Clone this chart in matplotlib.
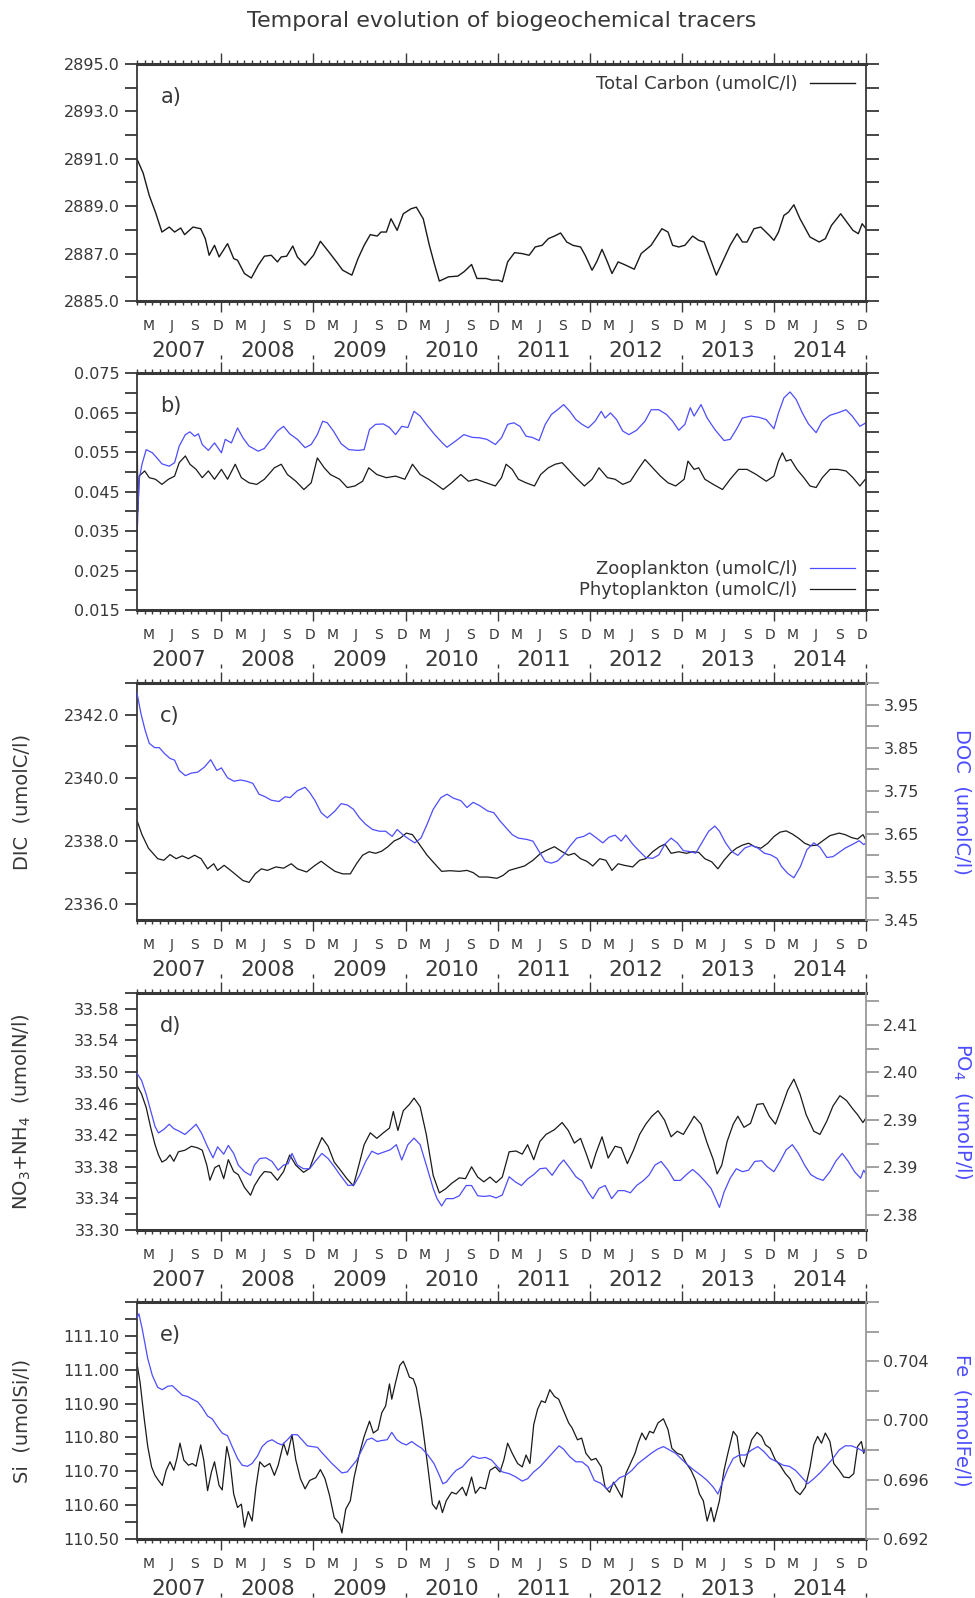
import numpy as np
import matplotlib
matplotlib.use("Agg")
import matplotlib.pyplot as plt
from matplotlib.ticker import FixedLocator, FixedFormatter, NullFormatter, FormatStrFormatter, MultipleLocator

plt.rcParams["font.family"] = ["DejaVu Sans"]

INK = "#383838"
BLUE = "#4d4dff"
GREY = "#9a9a9a"

# all series: (months since 1 Feb 2007, value)
total_carbon = [
    (0, 2890.99), (0.8, 2890.4), (1.6, 2889.45), (2.4, 2888.75), (3.25, 2887.91), (4.2, 2888.12),
    (4.9, 2887.91), (5.7, 2888.08), (6.2, 2887.80), (7.3, 2888.12), (8.3, 2888.05), (8.9, 2887.63),
    (9.4, 2886.93), (10.1, 2887.35), (10.7, 2886.86), (11.8, 2887.42), (12.6, 2886.79), (13.1, 2886.72),
    (14.0, 2886.16), (14.9, 2885.97), (15.8, 2886.51), (16.6, 2886.89), (17.5, 2886.93), (18.3, 2886.65),
    (18.8, 2886.86), (19.5, 2886.89), (20.3, 2887.32), (20.9, 2886.86), (21.9, 2886.51), (23.0, 2886.93),
    (23.9, 2887.52), (25.0, 2887.07), (26.0, 2886.65), (26.8, 2886.30), (28.0, 2886.09), (28.8, 2886.79),
    (29.6, 2887.35), (30.4, 2887.80), (31.3, 2887.74), (31.8, 2887.91), (32.5, 2887.91), (33.1, 2888.47),
    (33.9, 2887.98), (34.7, 2888.68), (35.7, 2888.89), (36.4, 2888.96), (37.3, 2888.47), (38.1, 2887.35),
    (38.8, 2886.51), (39.4, 2885.84), (40.6, 2886.02), (41.8, 2886.05), (42.6, 2886.23), (43.6, 2886.54),
    (44.3, 2885.95), (45.5, 2885.95), (46.3, 2885.88), (47.1, 2885.88), (47.6, 2885.81), (48.3, 2886.65),
    (49.2, 2887.04), (50.2, 2887.00), (51.1, 2886.93), (51.9, 2887.28), (52.8, 2887.35), (53.6, 2887.63),
    (54.4, 2887.74), (55.2, 2887.87), (56.0, 2887.49), (56.8, 2887.35), (57.8, 2887.28), (58.4, 2886.93),
    (59.3, 2886.30), (59.9, 2886.65), (60.6, 2887.18), (61.3, 2886.65), (61.9, 2886.16), (62.7, 2886.65),
    (63.7, 2886.51), (64.8, 2886.34), (65.7, 2887.00), (67.0, 2887.35), (68.4, 2888.05), (69.2, 2887.91),
    (69.8, 2887.35), (70.6, 2887.28), (71.4, 2887.35), (72.4, 2887.74), (73.2, 2887.56), (73.9, 2887.49),
    (74.7, 2886.79), (75.5, 2886.09), (76.3, 2886.65), (77.3, 2887.35), (78.2, 2887.84), (78.9, 2887.49),
    (79.5, 2887.49), (80.4, 2888.05), (81.3, 2888.12), (82.4, 2887.77), (83.0, 2887.56), (83.6, 2887.91),
    (84.3, 2888.61), (84.9, 2888.75), (85.6, 2889.06), (86.4, 2888.47), (87.7, 2887.70), (88.9, 2887.49),
    (89.7, 2887.63), (90.5, 2888.19), (91.7, 2888.68), (92.5, 2888.33), (93.3, 2887.98), (94.0, 2887.84),
    (94.5, 2888.26), (95.0, 2888.05),
]

zooplankton = [
    (0, 0.0325), (0.25, 0.0477), (0.65, 0.0519), (1.2, 0.0556), (2.0, 0.0548), (2.6, 0.0535), (3.25, 0.0520),
    (4.2, 0.0514), (4.9, 0.0523), (5.5, 0.0565), (6.3, 0.0594), (6.9, 0.0601), (7.5, 0.0590), (8.0, 0.0596),
    (8.5, 0.0569), (9.3, 0.0554), (10.1, 0.0573), (11.0, 0.0548), (11.5, 0.0582), (12.3, 0.0573), (13.1, 0.0611),
    (13.8, 0.0586), (14.6, 0.0565), (15.8, 0.0552), (16.6, 0.0559), (17.5, 0.0582), (18.3, 0.0603), (19.1, 0.0615),
    (19.9, 0.0596), (20.9, 0.0582), (21.9, 0.0561), (22.7, 0.0569), (23.5, 0.0594), (24.2, 0.0628), (24.8, 0.0624),
    (25.6, 0.0603), (26.6, 0.0571), (27.6, 0.0556), (28.8, 0.0554), (29.6, 0.0556), (30.3, 0.0607), (31.1, 0.0620),
    (32.1, 0.0621), (32.9, 0.0612), (33.7, 0.0594), (34.5, 0.0615), (35.3, 0.0612), (36.1, 0.0653), (36.9, 0.0641),
    (37.7, 0.0620), (38.8, 0.0594), (39.8, 0.0573), (40.4, 0.0562), (41.4, 0.0576), (42.6, 0.0594), (43.7, 0.0587),
    (44.6, 0.0586), (45.6, 0.0582), (46.7, 0.0569), (47.5, 0.0586), (48.3, 0.0620), (49.1, 0.0624), (49.9, 0.0615),
    (50.7, 0.0590), (51.5, 0.0587), (52.4, 0.0579), (53.2, 0.0620), (54.0, 0.0645), (54.8, 0.0657), (55.6, 0.0670),
    (56.4, 0.0653), (57.2, 0.0632), (58.0, 0.0620), (58.8, 0.0611), (59.7, 0.0628), (60.5, 0.0653), (61.0, 0.0636),
    (61.7, 0.0649), (62.5, 0.0632), (63.3, 0.0603), (64.1, 0.0594), (65.1, 0.0605), (66.2, 0.0628), (67.0, 0.0657),
    (68.0, 0.0657), (69.0, 0.0645), (69.8, 0.0628), (70.6, 0.0605), (71.4, 0.0620), (72.1, 0.0662), (72.6, 0.0641),
    (73.5, 0.0670), (74.3, 0.0636), (75.3, 0.0607), (76.5, 0.0579), (77.3, 0.0582), (78.1, 0.0607), (78.9, 0.0636),
    (80.0, 0.0641), (81.0, 0.0638), (82.0, 0.0632), (83.0, 0.0609), (83.6, 0.0649), (84.3, 0.0687), (85.1, 0.0702),
    (85.9, 0.0683), (86.7, 0.0649), (87.5, 0.0621), (88.5, 0.0599), (89.3, 0.0628), (90.3, 0.0643), (91.3, 0.0649),
    (92.4, 0.0657), (93.2, 0.0641), (94.2, 0.0615), (95.0, 0.0624),
]

phytoplankton = [
    (0, 0.0636), (0.12, 0.0400), (0.3, 0.0490), (0.5, 0.0493), (1.0, 0.0502), (1.6, 0.0485), (2.4, 0.0481),
    (3.25, 0.0468), (4.1, 0.0481), (4.9, 0.0489), (5.5, 0.0523), (6.3, 0.0540), (6.9, 0.0519), (7.7, 0.0506),
    (8.5, 0.0485), (9.3, 0.0502), (10.1, 0.0481), (11.0, 0.0506), (11.8, 0.0481), (12.8, 0.0519), (13.6, 0.0485),
    (14.6, 0.0472), (15.6, 0.0468), (16.6, 0.0481), (17.9, 0.0510), (18.8, 0.0519), (19.6, 0.0493), (20.7, 0.0476),
    (21.75, 0.0455), (22.7, 0.0472), (23.5, 0.0535), (24.4, 0.0510), (25.2, 0.0493), (26.4, 0.0481), (27.4, 0.0460),
    (28.4, 0.0464), (29.4, 0.0476), (30.2, 0.0510), (31.25, 0.0493), (32.5, 0.0485), (33.7, 0.0489), (34.9, 0.0481),
    (35.9, 0.0519), (36.9, 0.0493), (38.0, 0.0481), (39.0, 0.0468), (39.9, 0.0455), (41.0, 0.0472), (42.2, 0.0493),
    (43.2, 0.0476), (44.2, 0.0481), (45.5, 0.0472), (46.7, 0.0464), (47.5, 0.0485), (48.1, 0.0519), (48.9, 0.0506),
    (49.7, 0.0481), (50.7, 0.0472), (51.8, 0.0464), (52.6, 0.0493), (53.6, 0.0510), (54.5, 0.0519), (55.4, 0.0523),
    (56.2, 0.0506), (57.2, 0.0485), (58.3, 0.0464), (59.3, 0.0481), (60.2, 0.0510), (61.3, 0.0485), (62.3, 0.0481),
    (63.3, 0.0468), (64.3, 0.0476), (65.3, 0.0506), (66.2, 0.0531), (67.2, 0.0510), (68.2, 0.0489), (69.2, 0.0472),
    (70.2, 0.0464), (71.3, 0.0481), (71.8, 0.0527), (72.6, 0.0506), (73.2, 0.0510), (74.0, 0.0481), (75.1, 0.0468),
    (76.3, 0.0455), (77.3, 0.0481), (78.4, 0.0506), (79.5, 0.0506), (80.7, 0.0493), (82.0, 0.0476), (83.0, 0.0489),
    (83.6, 0.0527), (84.1, 0.0548), (84.6, 0.0527), (85.2, 0.0531), (86.0, 0.0506), (86.9, 0.0485), (87.7, 0.0464),
    (88.5, 0.0460), (89.3, 0.0485), (90.3, 0.0506), (91.3, 0.0506), (92.4, 0.0502), (93.3, 0.0485), (94.2, 0.0464),
    (95.0, 0.0483),
]

dic = [
    (0, 2338.65), (0.65, 2338.2), (1.5, 2337.77), (2.7, 2337.44), (3.5, 2337.39), (4.3, 2337.57), (5.1, 2337.44),
    (5.9, 2337.53), (6.7, 2337.44), (7.5, 2337.55), (8.35, 2337.44), (9.2, 2337.12), (10.0, 2337.28), (10.5, 2337.07),
    (11.35, 2337.23), (12.2, 2337.07), (13.0, 2336.91), (13.8, 2336.75), (14.6, 2336.69), (15.4, 2336.96),
    (16.2, 2337.12), (17.0, 2337.07), (18.1, 2337.18), (19.1, 2337.14), (20.1, 2337.28), (20.9, 2337.12),
    (22.1, 2337.02), (23.2, 2337.23), (24.0, 2337.36), (24.8, 2337.21), (25.8, 2337.04), (26.8, 2336.96),
    (27.8, 2336.96), (28.6, 2337.28), (29.4, 2337.55), (30.25, 2337.66), (31.1, 2337.61), (31.9, 2337.68),
    (32.7, 2337.82), (33.5, 2338.00), (34.3, 2338.09), (35.1, 2338.25), (35.9, 2338.2), (36.7, 2337.93),
    (37.8, 2337.55), (38.8, 2337.28), (39.7, 2337.04), (40.8, 2337.06), (42.0, 2337.04), (43.0, 2337.07),
    (43.8, 2337.0), (44.6, 2336.86), (45.7, 2336.86), (46.9, 2336.82), (47.7, 2336.91), (48.5, 2337.07),
    (49.5, 2337.14), (50.5, 2337.21), (51.6, 2337.39), (52.6, 2337.61), (53.4, 2337.71), (54.4, 2337.82),
    (55.4, 2337.66), (56.2, 2337.55), (57.0, 2337.61), (57.8, 2337.44), (58.6, 2337.36), (59.4, 2337.21),
    (60.3, 2337.44), (61.1, 2337.39), (61.9, 2337.07), (62.7, 2337.28), (63.5, 2337.23), (64.6, 2337.18),
    (65.5, 2337.39), (66.3, 2337.44), (67.2, 2337.66), (68.1, 2337.82), (68.8, 2337.9), (69.6, 2337.61),
    (70.6, 2337.66), (71.6, 2337.61), (72.4, 2337.66), (73.2, 2337.64), (74.0, 2337.44), (74.9, 2337.34),
    (75.7, 2337.12), (76.5, 2337.39), (77.3, 2337.61), (78.1, 2337.77), (78.9, 2337.87), (79.7, 2337.93),
    (80.5, 2337.82), (81.3, 2337.77), (82.2, 2337.93), (83.0, 2338.14), (83.8, 2338.28), (84.6, 2338.32),
    (85.4, 2338.22), (86.2, 2338.09), (87.0, 2337.93), (87.8, 2337.85), (88.6, 2337.87), (89.5, 2338.03),
    (90.3, 2338.17), (91.5, 2338.25), (92.3, 2338.2), (93.1, 2338.11), (93.9, 2338.06), (94.6, 2338.2),
    (95.0, 2338.03),
]

doc = [
    (0, 3.977), (0.5, 3.930), (1.05, 3.891), (1.6, 3.860), (2.3, 3.850), (2.9, 3.850), (3.6, 3.836), (4.3, 3.825),
    (4.9, 3.821), (5.5, 3.797), (6.3, 3.785), (7.1, 3.791), (7.9, 3.793), (8.8, 3.805), (9.6, 3.822), (10.4, 3.797),
    (11.0, 3.803), (11.8, 3.780), (12.65, 3.772), (13.5, 3.775), (14.3, 3.772), (15.1, 3.767), (15.9, 3.742),
    (16.7, 3.736), (17.5, 3.728), (18.5, 3.725), (19.3, 3.736), (19.95, 3.734), (20.9, 3.750), (21.9, 3.758),
    (22.5, 3.746), (23.2, 3.727), (24.0, 3.699), (24.8, 3.687), (25.8, 3.703), (26.6, 3.720), (27.4, 3.717),
    (28.2, 3.707), (29.0, 3.687), (29.8, 3.672), (30.7, 3.660), (31.6, 3.656), (32.4, 3.656), (33.25, 3.644),
    (33.9, 3.660), (34.7, 3.647), (35.5, 3.637), (36.2, 3.629), (37.0, 3.640), (37.8, 3.672), (38.6, 3.707),
    (39.6, 3.734), (40.4, 3.742), (41.2, 3.733), (42.2, 3.727), (43.0, 3.711), (43.8, 3.723), (44.6, 3.716),
    (45.7, 3.703), (46.5, 3.699), (47.3, 3.680), (48.1, 3.664), (48.9, 3.648), (49.7, 3.640), (50.8, 3.637),
    (51.6, 3.633), (52.4, 3.609), (53.2, 3.586), (54.0, 3.582), (54.8, 3.587), (55.6, 3.601), (56.4, 3.621),
    (57.3, 3.640), (58.2, 3.644), (59.0, 3.652), (59.9, 3.640), (60.7, 3.629), (61.5, 3.642), (62.3, 3.647),
    (63.1, 3.633), (63.7, 3.647), (64.6, 3.626), (65.5, 3.609), (66.3, 3.595), (67.2, 3.593), (68.0, 3.601),
    (68.8, 3.626), (69.6, 3.640), (70.4, 3.629), (71.2, 3.611), (72.0, 3.609), (72.8, 3.605), (73.6, 3.629),
    (74.5, 3.656), (75.3, 3.668), (75.9, 3.656), (76.7, 3.629), (77.5, 3.609), (78.3, 3.600), (79.2, 3.617),
    (80.1, 3.623), (80.9, 3.617), (81.75, 3.605), (82.6, 3.601), (83.4, 3.593), (84.0, 3.574), (84.8, 3.558),
    (85.6, 3.548), (86.45, 3.574), (87.3, 3.613), (88.2, 3.629), (89.0, 3.619), (89.9, 3.595), (90.7, 3.597),
    (91.5, 3.607), (92.3, 3.617), (93.3, 3.626), (94.1, 3.634), (94.7, 3.625), (95.0, 3.629),
]

no3_nh4 = [
    (0, 33.483), (0.6, 33.472), (1.2, 33.455), (1.8, 33.429), (2.35, 33.408), (2.8, 33.395), (3.25, 33.386),
    (3.8, 33.389), (4.3, 33.395), (4.8, 33.387), (5.4, 33.399), (6.25, 33.401), (7.1, 33.406), (7.9, 33.404),
    (8.5, 33.401), (9.1, 33.382), (9.5, 33.363), (10.15, 33.379), (10.7, 33.382), (11.3, 33.365), (11.9, 33.389),
    (12.6, 33.374), (13.2, 33.370), (14.0, 33.354), (14.8, 33.344), (15.3, 33.356), (16.0, 33.367), (16.6, 33.374),
    (17.45, 33.373), (18.3, 33.363), (19.1, 33.374), (19.9, 33.395), (20.7, 33.382), (21.7, 33.373), (22.5, 33.378),
    (23.3, 33.399), (24.1, 33.417), (24.9, 33.406), (25.7, 33.386), (26.5, 33.376), (27.35, 33.365), (28.2, 33.356),
    (28.8, 33.378), (29.6, 33.408), (30.4, 33.423), (31.25, 33.416), (32.1, 33.423), (32.9, 33.429), (33.4, 33.450),
    (34.0, 33.426), (34.7, 33.451), (35.5, 33.459), (36.1, 33.467), (36.9, 33.456), (37.7, 33.421), (38.6, 33.369),
    (39.4, 33.347), (40.2, 33.352), (41.0, 33.359), (42.0, 33.366), (42.8, 33.365), (43.6, 33.380), (44.4, 33.367),
    (45.2, 33.361), (46.0, 33.367), (46.8, 33.360), (47.6, 33.367), (48.5, 33.399), (49.4, 33.400), (50.2, 33.396),
    (50.9, 33.408), (51.7, 33.389), (52.5, 33.412), (53.3, 33.421), (54.4, 33.427), (55.4, 33.436), (56.2, 33.426),
    (57.0, 33.410), (57.8, 33.416), (58.6, 33.395), (59.2, 33.378), (59.8, 33.397), (60.6, 33.418), (61.4, 33.391),
    (62.3, 33.406), (63.1, 33.404), (63.9, 33.384), (64.7, 33.401), (65.5, 33.421), (66.3, 33.434), (67.1, 33.444),
    (67.9, 33.451), (68.75, 33.439), (69.6, 33.418), (70.4, 33.425), (71.2, 33.421), (72.0, 33.434), (72.6, 33.444),
    (73.5, 33.434), (74.3, 33.410), (75.1, 33.389), (75.6, 33.371), (76.2, 33.382), (76.9, 33.412), (77.7, 33.434),
    (78.3, 33.444), (79.1, 33.430), (79.95, 33.435), (80.8, 33.459), (81.6, 33.460), (82.4, 33.444), (83.2, 33.434),
    (84.0, 33.455), (84.8, 33.477), (85.6, 33.491), (86.4, 33.472), (87.2, 33.446), (88.2, 33.425), (89.0, 33.421),
    (89.9, 33.438), (90.7, 33.457), (91.6, 33.470), (92.45, 33.464), (93.3, 33.453), (93.9, 33.446), (94.6, 33.436),
    (95.0, 33.442),
]

po4 = [
    (0, 2.3994), (0.6, 2.3984), (1.2, 2.3965), (1.8, 2.3942), (2.35, 2.3921), (2.8, 2.3912), (3.5, 2.3917),
    (4.2, 2.3924), (4.8, 2.3918), (5.4, 2.3915), (6.25, 2.3910), (7.1, 2.3918), (7.7, 2.3924), (8.4, 2.3912),
    (9.2, 2.3893), (9.9, 2.3878), (10.5, 2.3893), (11.3, 2.3883), (11.9, 2.3895), (12.6, 2.3884), (13.2, 2.3868),
    (14.0, 2.3859), (14.8, 2.3854), (15.3, 2.3868), (16.0, 2.3877), (16.8, 2.3878), (17.6, 2.3873), (18.4, 2.3861),
    (19.1, 2.3868), (19.7, 2.3870), (20.2, 2.3884), (20.9, 2.3868), (21.7, 2.3863), (22.5, 2.3863), (23.3, 2.3874),
    (24.1, 2.3884), (24.9, 2.3877), (25.7, 2.3866), (26.5, 2.3854), (27.5, 2.3840), (28.3, 2.3841), (29.0, 2.3854),
    (29.8, 2.3873), (30.6, 2.3887), (31.4, 2.3883), (32.2, 2.3886), (33.0, 2.3889), (33.8, 2.3896), (34.5, 2.3875),
    (35.3, 2.3896), (36.1, 2.3905), (36.9, 2.3896), (37.7, 2.3868), (38.6, 2.3836), (39.1, 2.3822), (39.7, 2.3812),
    (40.3, 2.3822), (41.2, 2.3822), (42.0, 2.3826), (42.9, 2.3840), (43.6, 2.3840), (44.4, 2.3826), (45.2, 2.3825),
    (46.0, 2.3826), (46.8, 2.3823), (47.6, 2.3827), (48.5, 2.3852), (49.3, 2.3845), (50.1, 2.3840), (50.9, 2.3849),
    (51.7, 2.3855), (52.5, 2.3863), (53.3, 2.3864), (54.1, 2.3854), (55.0, 2.3868), (55.6, 2.3875), (56.4, 2.3864),
    (57.2, 2.3852), (58.0, 2.3846), (58.8, 2.3831), (59.4, 2.3822), (60.2, 2.3836), (61.0, 2.3840), (61.85, 2.3822),
    (62.7, 2.3833), (63.5, 2.3833), (64.3, 2.3830), (65.1, 2.3840), (65.9, 2.3846), (66.7, 2.3854), (67.5, 2.3868),
    (68.3, 2.3873), (69.2, 2.3861), (70.0, 2.3847), (70.8, 2.3847), (71.6, 2.3855), (72.4, 2.3862), (73.2, 2.3855),
    (74.0, 2.3846), (74.8, 2.3836), (75.4, 2.3822), (75.9, 2.3810), (76.5, 2.3831), (77.3, 2.3850), (78.1, 2.3863),
    (78.9, 2.3859), (79.7, 2.3861), (80.5, 2.3873), (81.4, 2.3874), (82.1, 2.3866), (83.0, 2.3859), (83.8, 2.3873),
    (84.6, 2.3889), (85.4, 2.3896), (86.2, 2.3884), (87.0, 2.3868), (87.8, 2.3855), (88.6, 2.3850), (89.4, 2.3847),
    (90.3, 2.3859), (91.1, 2.3874), (91.9, 2.3884), (92.7, 2.3873), (93.5, 2.3859), (94.3, 2.3850), (94.7, 2.3861),
    (95.0, 2.3856),
]

silicate = [
    (0, 111.018), (0.4, 110.963), (0.9, 110.863), (1.4, 110.773), (1.9, 110.713), (2.35, 110.688), (2.8, 110.673),
    (3.3, 110.658), (3.8, 110.703), (4.3, 110.728), (4.8, 110.703), (5.2, 110.738), (5.6, 110.783), (6.1, 110.733),
    (6.7, 110.718), (7.2, 110.723), (7.7, 110.715), (8.3, 110.778), (8.7, 110.733), (9.2, 110.643), (9.7, 110.698),
    (10.1, 110.728), (10.7, 110.658), (11.1, 110.645), (11.7, 110.773), (12.1, 110.733), (12.6, 110.633),
    (13.1, 110.593), (13.6, 110.603), (14.0, 110.535), (14.5, 110.581), (15.0, 110.553), (15.5, 110.653),
    (16.0, 110.728), (16.6, 110.713), (17.3, 110.723), (17.9, 110.688), (18.4, 110.718), (19.1, 110.783),
    (19.6, 110.748), (20.2, 110.808), (20.7, 110.733), (21.3, 110.678), (21.9, 110.648), (22.5, 110.673),
    (23.3, 110.681), (23.9, 110.705), (24.5, 110.678), (25.1, 110.628), (25.7, 110.563), (26.4, 110.545),
    (26.7, 110.518), (27.2, 110.588), (27.8, 110.613), (28.3, 110.683), (29.0, 110.753), (29.6, 110.803),
    (30.3, 110.848), (30.8, 110.813), (31.4, 110.823), (31.9, 110.873), (32.4, 110.893), (32.9, 110.958),
    (33.2, 110.913), (33.7, 110.963), (34.25, 111.013), (34.7, 111.025), (35.1, 111.003), (35.5, 110.978),
    (36.0, 110.973), (36.4, 110.948), (37.1, 110.853), (37.9, 110.713), (38.5, 110.603), (39.0, 110.588),
    (39.4, 110.613), (39.8, 110.578), (40.3, 110.613), (41.0, 110.638), (41.6, 110.633), (42.4, 110.653),
    (42.9, 110.628), (43.6, 110.683), (44.1, 110.635), (44.7, 110.653), (45.4, 110.648), (46.0, 110.703),
    (46.7, 110.713), (47.3, 110.698), (47.8, 110.733), (48.3, 110.783), (48.9, 110.753), (49.6, 110.723),
    (50.2, 110.713), (50.7, 110.748), (51.2, 110.723), (51.7, 110.838), (52.2, 110.883), (52.7, 110.908),
    (53.2, 110.903), (53.8, 110.941), (54.4, 110.921), (54.95, 110.913), (55.6, 110.878), (56.25, 110.843),
    (56.7, 110.828), (57.4, 110.793), (57.95, 110.798), (58.5, 110.753), (59.2, 110.733), (59.8, 110.738),
    (60.5, 110.713), (61.0, 110.653), (61.6, 110.638), (62.1, 110.668), (62.7, 110.643), (63.2, 110.623),
    (63.7, 110.693), (64.3, 110.723), (64.9, 110.753), (65.3, 110.783), (65.8, 110.813), (66.3, 110.793),
    (66.8, 110.818), (67.3, 110.813), (67.9, 110.843), (68.6, 110.855), (69.2, 110.823), (69.7, 110.768),
    (70.4, 110.753), (71.0, 110.748), (71.6, 110.723), (72.2, 110.703), (72.8, 110.673), (73.3, 110.633),
    (73.8, 110.613), (74.3, 110.553), (74.8, 110.593), (75.2, 110.551), (75.9, 110.613), (76.5, 110.703),
    (77.0, 110.753), (77.7, 110.818), (78.2, 110.803), (78.65, 110.728), (79.1, 110.713), (79.6, 110.753),
    (80.1, 110.793), (80.8, 110.815), (81.4, 110.803), (81.9, 110.778), (82.5, 110.768), (83.2, 110.733),
    (83.8, 110.718), (84.5, 110.693), (85.1, 110.678), (85.8, 110.643), (86.4, 110.631), (87.1, 110.653),
    (87.7, 110.711), (88.2, 110.778), (88.7, 110.803), (89.2, 110.783), (89.7, 110.813), (90.3, 110.788),
    (90.8, 110.723), (91.5, 110.703), (92.1, 110.683), (92.8, 110.681), (93.4, 110.693), (93.9, 110.773),
    (94.4, 110.788), (94.7, 110.753), (95.0, 110.773),
]

iron = [
    (0, 0.70693), (0.25, 0.70720), (0.7, 0.70613), (1.4, 0.70418), (2.0, 0.70304), (2.7, 0.70224), (3.3, 0.70208),
    (4.0, 0.70231), (4.6, 0.70235), (5.3, 0.70201), (5.9, 0.70171), (6.6, 0.70162), (7.2, 0.70144), (7.9, 0.70126),
    (8.5, 0.70087), (9.2, 0.70030), (9.8, 0.70011), (10.5, 0.69957), (11.1, 0.69915), (11.8, 0.69897),
    (12.4, 0.69824), (13.1, 0.69744), (13.7, 0.69698), (14.4, 0.69691), (15.0, 0.69710), (15.7, 0.69760),
    (16.3, 0.69824), (17.0, 0.69858), (17.6, 0.69870), (18.3, 0.69847), (18.9, 0.69835), (19.6, 0.69870),
    (20.2, 0.69904), (20.9, 0.69904), (21.5, 0.69870), (22.2, 0.69829), (22.8, 0.69824), (23.5, 0.69819),
    (24.1, 0.69783), (24.8, 0.69744), (25.4, 0.69710), (26.1, 0.69675), (26.7, 0.69646), (27.4, 0.69653),
    (28.0, 0.69691), (28.65, 0.69733), (29.3, 0.69801), (29.95, 0.69870), (30.6, 0.69881), (31.3, 0.69858),
    (31.9, 0.69865), (32.6, 0.69870), (33.2, 0.69920), (33.85, 0.69870), (34.5, 0.69847), (35.1, 0.69835),
    (35.8, 0.69858), (36.4, 0.69835), (37.1, 0.69813), (37.9, 0.69767), (38.7, 0.69710), (39.4, 0.69630),
    (39.85, 0.69573), (40.3, 0.69584), (41.0, 0.69630), (41.6, 0.69664), (42.4, 0.69687), (43.2, 0.69733),
    (43.75, 0.69760), (44.6, 0.69744), (45.4, 0.69751), (46.2, 0.69733), (46.8, 0.69698), (47.6, 0.69653),
    (48.5, 0.69641), (49.4, 0.69618), (50.2, 0.69591), (50.9, 0.69607), (51.7, 0.69653), (52.5, 0.69687),
    (53.3, 0.69733), (54.1, 0.69778), (55.0, 0.69829), (55.6, 0.69806), (56.4, 0.69755), (57.2, 0.69721),
    (58.0, 0.69721), (58.8, 0.69687), (59.6, 0.69595), (60.4, 0.69577), (61.3, 0.69538), (62.1, 0.69573),
    (62.9, 0.69614), (63.7, 0.69630), (64.5, 0.69664), (65.3, 0.69710), (66.15, 0.69744), (67.0, 0.69778),
    (67.8, 0.69806), (68.6, 0.69824), (69.4, 0.69801), (70.2, 0.69778), (71.0, 0.69737), (71.8, 0.69698),
    (72.6, 0.69664), (73.5, 0.69630), (74.3, 0.69595), (75.1, 0.69550), (75.7, 0.69504), (76.4, 0.69595),
    (77.0, 0.69675), (77.7, 0.69744), (78.5, 0.69767), (79.3, 0.69767), (80.1, 0.69801), (80.9, 0.69824),
    (81.7, 0.69790), (82.5, 0.69744), (83.4, 0.69721), (84.2, 0.69698), (85.0, 0.69691), (85.8, 0.69664),
    (86.6, 0.69618), (87.4, 0.69573), (88.2, 0.69607), (89.0, 0.69646), (89.8, 0.69691), (90.7, 0.69744),
    (91.5, 0.69801), (92.3, 0.69829), (93.1, 0.69829), (93.9, 0.69813), (94.7, 0.69790), (95.0, 0.69801),
]

month_letters = ["M", "J", "S", "D"]
month_numbers = [3, 6, 9, 12]
year_labels = [2007, 2008, 2009, 2010, 2011, 2012, 2013, 2014]
po4_tick_values = [2.3800, 2.3865, 2.3930, 2.3995, 2.4060]
po4_tick_labels = ["2.38", "2.39", "2.39", "2.40", "2.41"]

T0 = 2007 + 1.0 / 12
T1 = 2015.0


def to_time(pairs):
    m = np.array([p[0] for p in pairs], dtype=float)
    return 2007 + (1 + m) / 12.0


def to_vals(pairs):
    return np.array([p[1] for p in pairs], dtype=float)


W, H = 975.0, 1598.0
LEFT_PX, RIGHT_PX = 137, 866
TOPS = [64, 373, 683, 993, 1302]
HEIGHT_PX = 237

fig = plt.figure(figsize=(9.75, 15.98), dpi=100)
fig.text((LEFT_PX + RIGHT_PX) / 2 / W, 1 - 21 / H, "Temporal evolution of biogeochemical tracers",
         ha="center", va="center", fontsize=16, color=INK)

year_starts = np.arange(2008, 2016)
month_starts = np.array([y + k / 12.0 for y in range(2007, 2015) for k in range(12)])
month_starts = month_starts[month_starts >= T0 - 1e-9]


def make_axes(top):
    return fig.add_axes([LEFT_PX / W, 1 - (top + HEIGHT_PX) / H, (RIGHT_PX - LEFT_PX) / W, HEIGHT_PX / H])


def style_time(ax, letter):
    ax.set_xlim(T0, T1)
    ax.xaxis.set_major_locator(FixedLocator(year_starts))
    ax.xaxis.set_minor_locator(FixedLocator(month_starts))
    ax.xaxis.set_major_formatter(NullFormatter())
    ax.xaxis.set_minor_formatter(NullFormatter())
    ax.tick_params(axis="x", which="major", direction="out", length=8, width=1.0,
                   top=True, bottom=True, color=INK)
    ax.tick_params(axis="x", which="minor", direction="out", length=3, width=1.0,
                   top=True, bottom=True, color=INK)
    for sp in ("top", "bottom"):
        ax.spines[sp].set_linewidth(2.2)
        ax.spines[sp].set_color(INK)
    ax.spines["left"].set_linewidth(1.3)
    ax.spines["left"].set_color(INK)
    ax.spines["right"].set_linewidth(1.3)
    ax.spines["right"].set_color(INK)

    trans = ("data", "axes fraction")
    for yr in year_labels:
        for lab, mn in zip(month_letters, month_numbers):
            t = yr + (mn - 0.5) / 12.0
            if T0 < t < T1:
                ax.annotate(lab, xy=(t, 0), xycoords=trans, xytext=(0, -18), textcoords="offset points",
                            ha="center", va="center", fontsize=10, color=INK)
        lo, hi = max(yr, T0), min(yr + 1, T1)
        ax.annotate(str(yr), xy=((lo + hi) / 2, 0), xycoords=trans, xytext=(0, -36),
                    textcoords="offset points", ha="center", va="center", fontsize=15.5, color=INK)

    sep = ax.secondary_xaxis(-0.245)
    sep.xaxis.set_major_locator(FixedLocator(year_starts))
    sep.xaxis.set_major_formatter(NullFormatter())
    sep.tick_params(axis="x", direction="in", length=3, width=1.0, color=INK)
    sep.spines["bottom"].set_visible(False)

    ax.text(0.032, 0.86, letter, transform=ax.transAxes, fontsize=15, color=INK, va="center", ha="left")


def style_left(ax, lo, hi, majors, minor_step, fmt, both_sides):
    ax.set_ylim(lo, hi)
    ax.yaxis.set_major_locator(FixedLocator(majors))
    ax.yaxis.set_minor_locator(MultipleLocator(minor_step))
    ax.yaxis.set_major_formatter(FormatStrFormatter(fmt))
    ax.tick_params(axis="y", which="both", direction="out", length=9, width=1.3, color=INK,
                   labelcolor=INK, labelsize=11.5, left=True, right=both_sides)
    if not both_sides:
        ax.spines["right"].set_visible(False)


def style_right(ax2, lo, hi, majors, minors, labels):
    ax2.set_ylim(lo, hi)
    ax2.yaxis.set_major_locator(FixedLocator(majors))
    ax2.yaxis.set_minor_locator(FixedLocator(minors))
    ax2.yaxis.set_major_formatter(FixedFormatter(labels))
    ax2.tick_params(axis="y", which="both", direction="out", length=9, width=1.3, color=GREY,
                    labelcolor=INK, labelsize=11.5)
    for sp in ("left", "top", "bottom"):
        ax2.spines[sp].set_visible(False)
    ax2.spines["right"].set_color(GREY)
    ax2.spines["right"].set_linewidth(1.3)


def side_labels(top, left_text, right_text):
    yc = 1 - (top + HEIGHT_PX / 2) / H
    fig.text(22 / W, yc, left_text, rotation=90, ha="center", va="center", fontsize=14, color=INK)
    fig.text(962 / W, yc, right_text, rotation=270, ha="center", va="center", fontsize=14, color=BLUE)


# a) total carbon
ax = make_axes(TOPS[0])
ax.plot(to_time(total_carbon), to_vals(total_carbon), color="#1a1a1a", lw=1.0, label="Total Carbon (umolC/l)")
style_time(ax, "a)")
style_left(ax, 2885.0, 2895.0, np.arange(2885, 2896, 2), 1.0, "%.1f", True)
ax.legend(loc="upper right", frameon=False, markerfirst=False, fontsize=13, handlelength=2.5,
          handletextpad=0.7, borderaxespad=0.3, borderpad=0.3, labelcolor=INK)

# b) plankton
ax = make_axes(TOPS[1])
l_phy, = ax.plot(to_time(phytoplankton), to_vals(phytoplankton), color="#1a1a1a", lw=0.9,
                 label="Phytoplankton (umolC/l)")
l_zoo, = ax.plot(to_time(zooplankton), to_vals(zooplankton), color=BLUE, lw=0.9, label="Zooplankton (umolC/l)")
style_time(ax, "b)")
style_left(ax, 0.015, 0.075, np.arange(0.015, 0.0751, 0.01), 0.005, "%.3f", True)
ax.legend(handles=[l_zoo, l_phy], loc="lower right", frameon=False, markerfirst=False, fontsize=13,
          handlelength=2.5, handletextpad=0.7, borderaxespad=0.3, borderpad=0.3, labelspacing=0.15,
          labelcolor=INK)

# c) DIC / DOC
ax = make_axes(TOPS[2])
ax.plot(to_time(dic), to_vals(dic), color="#1a1a1a", lw=0.9)
style_time(ax, "c)")
style_left(ax, 2335.5, 2343.0, [2336, 2338, 2340, 2342], 1.0, "%.1f", False)
ax2 = ax.twinx()
ax2.plot(to_time(doc), to_vals(doc), color=BLUE, lw=0.9)
doc_major = [3.45, 3.55, 3.65, 3.75, 3.85, 3.95]
style_right(ax2, 3.45, 4.00, doc_major, [3.50, 3.60, 3.70, 3.80, 3.90, 4.00],
            ["%.2f" % v for v in doc_major])
side_labels(TOPS[2], "DIC  (umolC/l)", "DOC  (umolC/l)")

# d) NO3+NH4 / PO4
ax = make_axes(TOPS[3])
ax.plot(to_time(no3_nh4), to_vals(no3_nh4), color="#1a1a1a", lw=0.9)
style_time(ax, "d)")
style_left(ax, 33.30, 33.60, np.arange(33.30, 33.581, 0.04), 0.02, "%.2f", False)
ax2 = ax.twinx()
ax2.plot(to_time(po4), to_vals(po4), color=BLUE, lw=0.9)
po4_step = po4_tick_values[1] - po4_tick_values[0]
style_right(ax2, 2.3779, 2.4104, po4_tick_values, [v + po4_step / 2 for v in po4_tick_values], po4_tick_labels)
side_labels(TOPS[3], r"NO$_3$+NH$_4$  (umolN/l)", r"PO$_4$  (umolP/l)")

# e) Si / Fe
ax = make_axes(TOPS[4])
ax.plot(to_time(silicate), to_vals(silicate), color="#1a1a1a", lw=0.9)
style_time(ax, "e)")
style_left(ax, 110.50, 111.20, np.arange(110.50, 111.101, 0.10), 0.05, "%.2f", False)
ax2 = ax.twinx()
ax2.plot(to_time(iron), to_vals(iron), color=BLUE, lw=0.9)
fe_major = [0.692, 0.696, 0.700, 0.704]
style_right(ax2, 0.692, 0.708, fe_major, [0.694, 0.698, 0.702, 0.706, 0.708],
            ["%.3f" % v for v in fe_major])
side_labels(TOPS[4], "Si  (umolSi/l)", "Fe  (nmolFe/l)")

fig.savefig("out.png", dpi=100)
